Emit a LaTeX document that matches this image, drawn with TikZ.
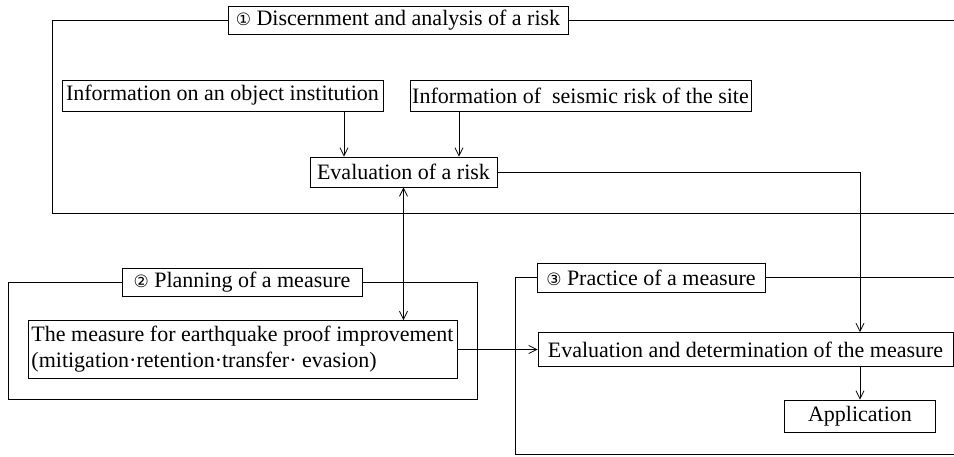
\documentclass[tikz,border=0pt]{standalone}
\usepackage{fontspec}
\setmainfont{Liberation Serif}
\newfontfamily\circfont{DejaVu Sans}
\usepackage{tikz}
\usetikzlibrary{positioning,calc,arrows.meta}

\begin{document}
\begin{tikzpicture}[x=1pt,y=-1pt,
    font=\fontsize{22}{26}\selectfont,
    box/.style={draw, line width=0.9pt, inner sep=0pt, align=center},
    frame/.style={draw, line width=1pt},
    link/.style={draw, line width=0.8pt, -{Straight Barb[length=8pt,width=8pt]}}]
    \useasboundingbox (0,0) rectangle (954,456);

    % Discernment and analysis
    \node[box, minimum width=340, minimum height=28] (title1) at (398,20) {{\circfont\fontsize{17}{17}\selectfont ①} Discernment and analysis of a risk};
    \node[box, minimum width=321, minimum height=31] (objinfo) at (222.5,95.5) {Information on an object institution};
    \node[box, minimum width=341, minimum height=31] (seisinfo) at (580.5,95.5) {Information of~ seismic risk of the site};
    \node[box, minimum width=187, minimum height=30] (riskeval) at (403.5,172) {Evaluation of a risk};

    % Planning
    \node[box, minimum width=240, minimum height=28] (title2) at (242,282) {{\circfont\fontsize{17}{17}\selectfont ②} Planning of a measure};
    \node[box, minimum width=429, minimum height=58, align=left] (measure) at (242.5,349.5) {The measure for earthquake proof improvement\\(mitigation·retention·transfer· evasion)};

    % Practice
    \node[box, minimum width=228, minimum height=29] (title3) at (651,277.5) {{\circfont\fontsize{17}{17}\selectfont ③} Practice of a measure};
    \node[box, minimum width=415, minimum height=34] (decide) at (745.5,349.5) {Evaluation and determination of the measure};
    \node[box, minimum width=151, minimum height=32] (apply) at (860,416) {Application};

    % group frames
    \draw[frame] (title1.west) -- (52,20) -- (52,213) -- (954,213);
    \draw[frame] (title1.east) -- (954,20);
    \draw[frame] (title2.west) -- (8,282) -- (8,399) -- (477,399) -- (477,282) -- (title2.east);
    \draw[frame] (title3.west) -- (515,277.5) -- (515,454) -- (954,454);
    \draw[frame] (title3.east) -- (954,277.5);

    % connectors
    \draw[link] (objinfo.south -| 344,0) -- (riskeval.north -| 344,0);
    \draw[link] (seisinfo.south -| 459,0) -- (riskeval.north -| 459,0);
    \draw[link] (riskeval.east) -| (decide.north -| apply.north);
    \draw[link, {Straight Barb[length=8pt,width=8pt]}-{Straight Barb[length=8pt,width=8pt]}] (riskeval.south) -- (measure.north -| riskeval.south);
    \draw[link] (measure.east) -- (decide.west);
    \draw[link] (decide.south -| apply.north) -- (apply.north);

\end{tikzpicture}
\end{document}
